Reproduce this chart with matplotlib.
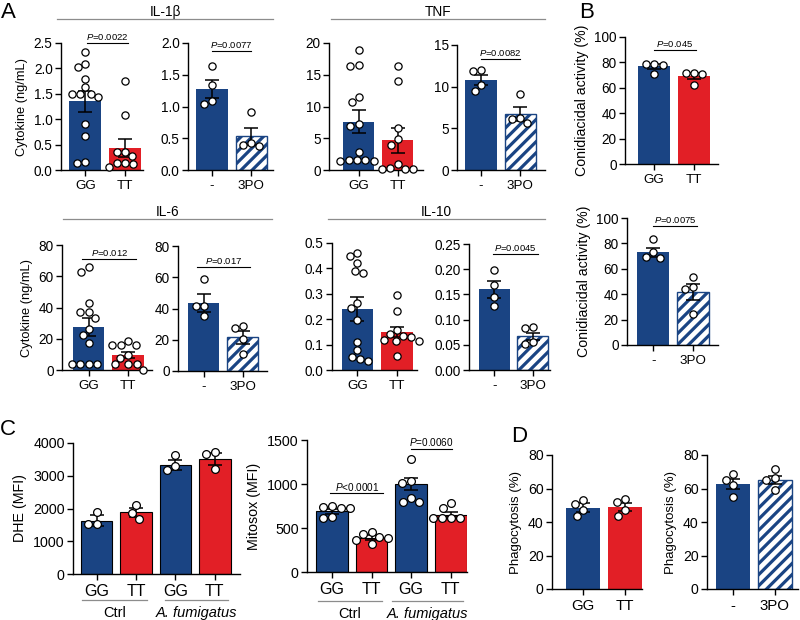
import numpy as np
import matplotlib as mpl
import matplotlib.pyplot as plt
from matplotlib.lines import Line2D

mpl.rcParams["font.family"] = ["Liberation Sans", "DejaVu Sans"]
mpl.rcParams["mathtext.fontset"] = "custom"
mpl.rcParams["mathtext.it"] = "Liberation Sans:italic"
mpl.rcParams["mathtext.rm"] = "Liberation Sans"
mpl.rcParams["hatch.linewidth"] = 2.3

BLUE = "#1a4483"
RED = "#e21f26"
GREY = "#8c8c8c"

# ---- data ----
gt_labels = ["GG", "TT"]
po_labels = ["-", "3PO"]
c_labels = ["GG", "TT", "GG", "TT"]

il1b_gt_mean = [1.35, 0.44]
il1b_gt_sem = [0.20, 0.18]
il1b_gt_pts = [[2.32, 2.09, 2.02, 1.80, 1.63, 1.50, 1.50, 1.50, 1.43, 0.90, 0.66, 0.15, 0.13],
               [1.76, 1.09, 0.36, 0.36, 0.28, 0.13, 0.13, 0.11, 0.05]]
il1b_po_mean = [1.28, 0.53]
il1b_po_sem = [0.14, 0.13]
il1b_po_pts = [[1.64, 1.34, 1.09, 1.04], [0.92, 0.42, 0.40, 0.38]]

tnf_gt_mean = [7.6, 4.7]
tnf_gt_sem = [1.85, 1.95]
tnf_gt_pts = [[18.9, 16.5, 16.4, 11.5, 10.7, 7.3, 7.0, 2.9, 1.6, 1.5, 1.5, 1.4, 1.4],
              [16.3, 14.0, 6.6, 4.9, 4.0, 0.9, 0.3, 0.2, 0.2, 0.2]]
tnf_po_mean = [10.8, 6.7]
tnf_po_sem = [0.6, 0.85]
tnf_po_pts = [[12.0, 11.9, 10.2, 9.5], [9.1, 6.2, 6.1, 5.6]]

il6_gt_mean = [27.4, 9.6]
il6_gt_sem = [5.8, 2.1]
il6_gt_pts = [[65.7, 63.0, 42.8, 37.0, 37.0, 33.2, 26.4, 22.1, 17.0, 4.0, 4.0, 3.6, 3.6],
              [18.7, 16.0, 16.0, 16.0, 9.6, 8.0, 3.6, 3.6, 3.6, 0.3]]
il6_po_mean = [43.4, 21.5]
il6_po_sem = [5.8, 4.3]
il6_po_pts = [[58.9, 41.7, 41.3, 35.3], [29.0, 27.4, 20.5, 10.8]]

il10_gt_mean = [0.240, 0.149]
il10_gt_sem = [0.046, 0.021]
il10_gt_pts = [[0.460, 0.447, 0.420, 0.388, 0.381, 0.263, 0.244, 0.198, 0.112, 0.077, 0.053, 0.043, 0.037],
               [0.296, 0.233, 0.159, 0.140, 0.135, 0.130, 0.120, 0.116, 0.115, 0.056]]
il10_po_mean = [0.1605, 0.0666]
il10_po_sem = [0.017, 0.0075]
il10_po_pts = [[0.199, 0.169, 0.145, 0.126], [0.085, 0.083, 0.055, 0.052]]

con_gt_mean = [76.8, 69.0]
con_gt_sem = [2.1, 2.3]
con_gt_pts = [[79.1, 79.1, 78.3, 70.5], [72.0, 71.3, 70.8, 62.1]]
con_po_mean = [73.1, 42.0]
con_po_sem = [3.6, 6.3]
con_po_pts = [[83.6, 73.1, 69.4, 68.6], [53.3, 45.4, 43.8, 24.8]]

dhe_mean = [1624, 1888, 3340, 3503]
dhe_sem = [170, 142, 150, 190]
dhe_pts = [[1898, 1513, 1513], [2101, 1857, 1675], [3624, 3289, 3168], [3726, 3675, 3218]]

mito_mean = [690, 391, 1000, 653]
mito_sem = [30, 30, 65, 31]
mito_pts = [[748, 740, 729, 729, 627, 615], [456, 430, 395, 391, 368, 315],
            [1280, 1037, 1014, 843, 798, 798], [779, 722, 608, 608, 608, 608]]

pha_gt_mean = [48.6, 49.0]
pha_gt_sem = [2.5, 2.5]
pha_gt_pts = [[53.2, 50.6, 47.0, 43.3], [53.6, 51.8, 47.0, 43.7]]
pha_po_mean = [62.7, 65.1]
pha_po_sem = [2.9, 2.6]
pha_po_pts = [[68.5, 65.1, 62.0, 54.8], [71.4, 66.1, 65.1, 59.1]]

W, H = 800, 620
fig = plt.figure(figsize=(W / 100, H / 100), dpi=100)


def fx(x):
    return x / W


def fy(y):
    return 1 - y / H


def swarm(y_px, d):
    placed = []
    out = []
    for y in y_px:
        cands = [0.0]
        for px, py in placed:
            dy = abs(y - py)
            if dy < d:
                dx = np.sqrt(d * d - dy * dy)
                cands += [px - dx, px + dx]
        cands.sort(key=lambda c: (round(abs(c), 3), c))
        for c in cands:
            if all((c - px) ** 2 + (y - py) ** 2 >= d * d - 1e-6 for px, py in placed):
                break
        placed.append((c, y))
        out.append(c)
    return np.array(out)


def bar_panel(rect, xlim, ymax, yticks, yticklabels, xlabels, means, sems, pts, fills,
              ylabel=None, fs_tick=9.8, fs_x=9.6, fs_y=9.3, ms=5.2, edge=None):
    left, top, right, bottom = rect
    ax = fig.add_axes([fx(left), fy(bottom), (right - left) / W, (bottom - top) / H])
    x = np.arange(len(means))
    for i, f in enumerate(fills):
        if f == "h":
            bc = ax.bar(x[i], means[i], 0.8, color="white", edgecolor=BLUE, hatch="///",
                        linewidth=1.0, zorder=1)
            for p in bc:
                if hasattr(p, "set_hatch_linewidth"):
                    p.set_hatch_linewidth(2.3)
        else:
            ax.bar(x[i], means[i], 0.8, color=BLUE if f == "b" else RED,
                   edgecolor=edge if edge else "none", linewidth=0.8, zorder=1)
    ax.errorbar(x, means, yerr=sems, fmt="none", ecolor="black", elinewidth=1.1,
                capsize=5, capthick=1.1, zorder=2)
    ax.set_xlim(*xlim)
    ax.set_ylim(0, ymax)
    ypp = (bottom - top) / ymax
    xpp = (right - left) / (xlim[1] - xlim[0])
    d = ms * 1.39 + 1.2
    for i, vals in enumerate(pts):
        offs = swarm(np.array(vals) * ypp, d) / xpp
        ax.plot(x[i] + offs, vals, "o", ms=ms, mfc="white", mec="black", mew=0.9,
                zorder=3, clip_on=False)
    for s in ["top", "right"]:
        ax.spines[s].set_visible(False)
    for s in ["left", "bottom"]:
        ax.spines[s].set_linewidth(1.0)
    ax.set_yticks(yticks)
    ax.set_yticklabels(yticklabels, fontsize=fs_tick)
    ax.set_xticks(x)
    ax.set_xticklabels(xlabels, fontsize=fs_x)
    ax.tick_params(length=4, width=1.0, pad=2)
    ax.tick_params(axis="x", pad=3)
    if ylabel:
        ax.set_ylabel(ylabel, fontsize=fs_y, labelpad=4)
    return ax


def pbar(ax, x0, x1, y, txt, fs=6.8):
    ax.plot([x0, x1], [y, y], color="black", lw=0.8, clip_on=False, zorder=4)
    ax.annotate(r"$\mathit{P}$" + txt, ((x0 + x1) / 2, y), xytext=(0, 0.6),
                textcoords="offset points", ha="center", va="bottom", fontsize=fs)


def header(x0, x1, y, txt):
    fig.add_artist(Line2D([fx(x0), fx(x1)], [fy(y), fy(y)], color=GREY, lw=0.9))
    fig.text(fx((x0 + x1) / 2), fy(y - 7), txt, ha="center", va="center", fontsize=9.8)


def group_lines(ax, spans, names, ybase_px, fs):
    ax_h = ax.get_position().height * H
    tr = ax.get_xaxis_transform()
    for (a, b), nm in zip(spans, names):
        ax.plot([a, b], [-ybase_px / ax_h] * 2, color=GREY, lw=0.9, transform=tr, clip_on=False)
        style = "italic" if nm.startswith("A.") else "normal"
        ax.text((a + b) / 2, -(ybase_px + 13) / ax_h, nm, transform=tr, ha="center",
                va="center", fontsize=fs, style=style)


# ---- A: IL-1b ----
ax = bar_panel((61, 43, 143, 170), (-0.61, 1.45), 2.5, [0, 0.5, 1.0, 1.5, 2.0, 2.5],
               ["0.0", "0.5", "1.0", "1.5", "2.0", "2.5"], gt_labels,
               il1b_gt_mean, il1b_gt_sem, il1b_gt_pts, "br", ylabel="Cytokine (ng/mL)")
pbar(ax, 0.05, 1.07, 2.5, "=0.0022")
ax = bar_panel((188, 43, 273, 170), (-0.61, 1.55), 2.0, [0, 0.5, 1.0, 1.5, 2.0],
               ["0.0", "0.5", "1.0", "1.5", "2.0"], po_labels,
               il1b_po_mean, il1b_po_sem, il1b_po_pts, "bh")
pbar(ax, 0.0, 1.0, 1.87, "=0.0077")
header(57, 273, 19, "IL-1β")

# ---- A: TNF ----
ax = bar_panel((329, 43, 423, 170), (-0.76, 1.65), 20, [0, 5, 10, 15, 20],
               ["0", "5", "10", "15", "20"], gt_labels,
               tnf_gt_mean, tnf_gt_sem, tnf_gt_pts, "br")
ax = bar_panel((457, 45, 545, 170), (-0.61, 1.63), 15, [0, 5, 10, 15],
               ["0", "5", "10", "15"], po_labels,
               tnf_po_mean, tnf_po_sem, tnf_po_pts, "bh")
pbar(ax, 0.0, 1.0, 13.3, "=0.0082")
header(331, 545, 19, "TNF")

# ---- A: IL-6 ----
ax = bar_panel((62, 245, 152, 370), (-0.67, 1.6), 80, [0, 20, 40, 60, 80],
               ["0", "20", "40", "60", "80"], gt_labels,
               il6_gt_mean, il6_gt_sem, il6_gt_pts, "br", ylabel="Cytokine (ng/mL)")
pbar(ax, -0.16, 1.2, 71.3, "=0.012")
ax = bar_panel((178, 246, 267, 371), (-0.67, 1.63), 80, [0, 20, 40, 60, 80],
               ["0", "20", "40", "60", "80"], po_labels,
               il6_po_mean, il6_po_sem, il6_po_pts, "bh")
pbar(ax, -0.19, 1.2, 66.4, "=0.017")
header(63, 272, 219, "IL-6")

# ---- A: IL-10 ----
ax = bar_panel((332, 243, 417, 370), (-0.64, 1.5), 0.5, [0, 0.1, 0.2, 0.3, 0.4, 0.5],
               ["0.0", "0.1", "0.2", "0.3", "0.4", "0.5"], gt_labels,
               il10_gt_mean, il10_gt_sem, il10_gt_pts, "br")
ax = bar_panel((469, 244, 550, 370), (-0.65, 1.44), 0.25, [0, 0.05, 0.10, 0.15, 0.20, 0.25],
               ["0.00", "0.05", "0.10", "0.15", "0.20", "0.25"], po_labels,
               il10_po_mean, il10_po_sem, il10_po_pts, "bh")
pbar(ax, -0.04, 1.13, 0.231, "=0.0045")
header(328, 545, 219, "IL-10")

# ---- B ----
ax = bar_panel((625, 37, 718, 164), (-0.73, 1.6), 100, [0, 20, 40, 60, 80, 100],
               ["0", "20", "40", "60", "80", "100"], gt_labels,
               con_gt_mean, con_gt_sem, con_gt_pts, "br", ylabel="Conidiacidal activity (%)",
               fs_y=10.2)
pbar(ax, 0.0, 1.05, 90, "=0.045")
ax = bar_panel((627, 218, 718, 345), (-0.66, 1.62), 100, [0, 20, 40, 60, 80, 100],
               ["0", "20", "40", "60", "80", "100"], po_labels,
               con_po_mean, con_po_sem, con_po_pts, "bh", ylabel="Conidiacidal activity (%)",
               fs_y=10.2)
pbar(ax, 0.0, 1.1, 94, "=0.0075")

# ---- C ----
ax = bar_panel((73, 443, 240, 574), (-0.6, 3.64), 4000, [0, 1000, 2000, 3000, 4000],
               ["0", "1000", "2000", "3000", "4000"], c_labels,
               dhe_mean, dhe_sem, dhe_pts, "brbr", ylabel="DHE (MFI)",
               fs_tick=10.3, fs_x=11.5, fs_y=10.3, ms=5.6, edge="black")
group_lines(ax, [(-0.37, 1.28), (1.73, 3.33)], ["Ctrl", "A. fumigatus"], 26, 10.5)
ax = bar_panel((307, 440, 467, 572), (-0.63, 3.41), 1500, [0, 500, 1000, 1500],
               ["0", "500", "1000", "1500"], c_labels,
               mito_mean, mito_sem, mito_pts, "brbr", ylabel="Mitosox (MFI)",
               fs_tick=10.3, fs_x=11.5, fs_y=10.3, ms=5.6, edge="black")
pbar(ax, -0.04, 1.3, 893, "<0.0001", fs=7.2)
pbar(ax, 2.0, 3.03, 1398, "=0.0060", fs=7.2)
group_lines(ax, [(-0.35, 1.26), (1.52, 3.32)], ["Ctrl", "A. fumigatus"], 29, 10.5)

# ---- D ----
ax = bar_panel((552, 455, 642, 589), (-0.73, 1.4), 80, [0, 20, 40, 60, 80],
               ["0", "20", "40", "60", "80"], gt_labels,
               pha_gt_mean, pha_gt_sem, pha_gt_pts, "br", ylabel="Phagocytosis (%)",
               fs_tick=10.2, fs_x=10.8, fs_y=9.5, ms=5.4)
ax = bar_panel((707, 455, 798, 589), (-0.61, 1.55), 80, [0, 20, 40, 60, 80],
               ["0", "20", "40", "60", "80"], po_labels,
               pha_po_mean, pha_po_sem, pha_po_pts, "bh", ylabel="Phagocytosis (%)",
               fs_tick=10.2, fs_x=10.8, fs_y=9.5, ms=5.4)

# panel letters
for lx, ly, t in [(1, 2, "A"), (579, 2, "B"), (0, 419, "C"), (511, 426, "D")]:
    fig.text(fx(lx), fy(ly), t, fontsize=16, ha="left", va="top")

fig.savefig("out.png", dpi=100)
